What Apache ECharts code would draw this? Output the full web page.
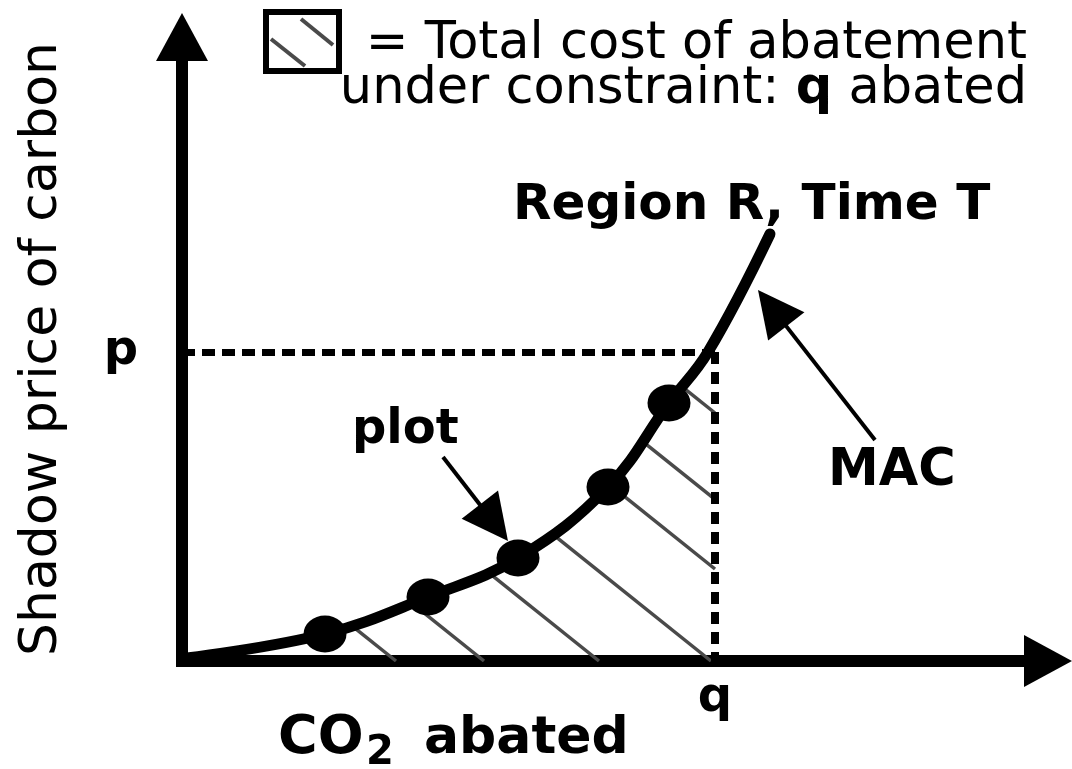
<!DOCTYPE html>
<html>
<head>
<meta charset="utf-8">
<title>Marginal abatement cost curve</title>
<script src="https://cdn.jsdelivr.net/npm/echarts@6/dist/echarts.min.js"></script>
<style>
  html, body { margin: 0; padding: 0; background: #fff; }
  #chart { width: 1072px; height: 769px; }
</style>
</head>
<body>
<div id="chart"></div>
<script>
// MAC curve (x = CO2 abated, y = shadow price)
const macX = [5, 143, 246, 336, 426, 487, 526, 588];
const macY = [3, 27, 64, 103, 174, 258, 309, 427];

// the plotted points sitting on the curve
const plotX = [143, 246, 336, 426, 487];
const plotY = [27, 64, 103, 174, 258];

// price / quantity of the constraint
const pValue = 309;
const qValue = 533;

// hatch lines, given by where each one would meet the x axis
const hatchX0 = [214, 302, 417, 529, 648, 735, 843];
const HATCH_SLOPE = 0.8;

// annotation arrows: tail -> tip
const arrowTail = [[693, 221], [261, 204]];
const arrowTip = [[576, 371], [326, 120]];

const X_MAX = 866;
const Y_MAX = 624;
const FONT = '"DejaVu Sans", Verdana, sans-serif';

const curveData = macX.map((x, i) => [x, macY[i]]);
const plotData = plotX.map((x, i) => [x, plotY[i]]);

// clip each hatch line between the curve and the axis / q line
const hatchSegments = () => {
  const segs = [];
  hatchX0.forEach(x0 => {
    for (let i = 0; i < macX.length - 1; i++) {
      const xa = macX[i], ya = macY[i], xb = macX[i + 1], yb = macY[i + 1];
      const fa = ya - HATCH_SLOPE * (x0 - xa);
      const fb = yb - HATCH_SLOPE * (x0 - xb);
      if (fa <= 0 && fb >= 0) {
        const t = -fa / (fb - fa);
        const xc = xa + t * (xb - xa);
        const yc = ya + t * (yb - ya);
        if (xc < qValue) {
          const end = x0 <= qValue ? [x0, 0] : [qValue, HATCH_SLOPE * (x0 - qValue)];
          segs.push({ coords: [[xc, yc], end] });
        }
        break;
      }
    }
  });
  return segs;
};

// triangle heads are centred on the line end, so pull the end back by half a head
const HEAD_LEN = 46;
const arrowData = arrowTail.map((tail, i) => {
  const tip = arrowTip[i];
  const dx = tip[0] - tail[0], dy = tip[1] - tail[1];
  const len = Math.sqrt(dx * dx + dy * dy);
  const back = HEAD_LEN / 2 / len;
  return { coords: [tail, [tip[0] - dx * back, tip[1] - dy * back]] };
});

const chart = echarts.init(document.getElementById('chart'));

const axisBase = {
  type: 'value',
  min: 0,
  splitLine: { show: false },
  axisTick: { show: false },
  axisLine: {
    lineStyle: { color: '#000', width: 12, cap: 'square' },
    symbol: ['none', 'triangle'],
    symbolSize: [52, 48]
  }
};

const boldLabel = {
  color: '#000',
  fontFamily: FONT,
  fontSize: 48,
  fontWeight: 'bold'
};

chart.setOption({
  animation: false,
  grid: { left: 182, right: 24, top: 37, bottom: 108 },
  xAxis: Object.assign({}, axisBase, {
    max: X_MAX,
    axisLabel: Object.assign({ customValues: [qValue], formatter: () => 'q', margin: 14 }, boldLabel)
  }),
  yAxis: Object.assign({}, axisBase, {
    max: Y_MAX,
    name: 'Shadow price of carbon',
    nameLocation: 'middle',
    nameRotate: 90,
    nameGap: 114,
    nameTextStyle: { color: '#000', fontFamily: FONT, fontSize: 52 },
    axisLabel: Object.assign({ customValues: [pValue], formatter: () => 'p', margin: 44 }, boldLabel)
  }),
  series: [
    {
      name: 'hatch',
      type: 'lines',
      coordinateSystem: 'cartesian2d',
      z: 1,
      symbol: 'none',
      lineStyle: { color: '#4a4a4a', width: 3.5, opacity: 1 },
      data: hatchSegments()
    },
    {
      name: 'constraint',
      type: 'lines',
      coordinateSystem: 'cartesian2d',
      z: 2,
      symbol: 'none',
      lineStyle: { color: '#000', width: 7, type: [13, 7], opacity: 1 },
      data: [
        { coords: [[0, pValue], [qValue, pValue]] },
        { coords: [[qValue, pValue], [qValue, 0]], lineStyle: { width: 8, type: [12, 8] } }
      ]
    },
    {
      name: 'MAC',
      type: 'line',
      z: 3,
      smooth: 0.4,
      showSymbol: false,
      lineStyle: { color: '#000', width: 11, cap: 'round' },
      data: curveData
    },
    {
      name: 'plot',
      type: 'scatter',
      z: 4,
      symbol: 'circle',
      symbolSize: [43, 37],
      itemStyle: { color: '#000', opacity: 1 },
      data: plotData
    },
    {
      name: 'arrows',
      type: 'lines',
      coordinateSystem: 'cartesian2d',
      z: 5,
      symbol: ['none', 'triangle'],
      symbolSize: [34, HEAD_LEN],
      lineStyle: { color: '#000', width: 4, opacity: 1 },
      data: arrowData
    }
  ],
  graphic: [
    // legend swatch
    {
      type: 'rect',
      shape: { x: 266, y: 12, width: 73, height: 59 },
      style: { fill: '#fff', stroke: '#000', lineWidth: 6 }
    },
    {
      type: 'line',
      shape: { x1: 301, y1: 19, x2: 333, y2: 45 },
      style: { stroke: '#4a4a4a', lineWidth: 4 }
    },
    {
      type: 'line',
      shape: { x1: 271, y1: 39, x2: 305, y2: 66 },
      style: { stroke: '#4a4a4a', lineWidth: 4 }
    },
    {
      type: 'text',
      x: 1027, y: 45,
      style: {
        text: '= Total cost of abatement',
        font: '51px ' + FONT, fill: '#000',
        align: 'right', verticalAlign: 'middle',
        textAlign: 'right', textVerticalAlign: 'middle'
      }
    },
    {
      type: 'text',
      x: 1027, y: 90,
      style: {
        text: 'under constraint: {b|q} abated',
        font: '51px ' + FONT, fill: '#000',
        align: 'right', verticalAlign: 'middle',
        textAlign: 'right', textVerticalAlign: 'middle',
        rich: { b: { fontFamily: FONT, fontSize: 51, fontWeight: 'bold', fill: '#000', color: '#000' } }
      }
    },
    {
      type: 'text',
      x: 513, y: 206,
      style: { text: 'Region R, Time T', font: 'bold 50px ' + FONT, fill: '#000', verticalAlign: 'middle', textVerticalAlign: 'middle' }
    },
    {
      type: 'text',
      x: 828, y: 472,
      style: { text: 'MAC', font: 'bold 51px ' + FONT, fill: '#000', verticalAlign: 'middle', textVerticalAlign: 'middle' }
    },
    {
      type: 'text',
      x: 352, y: 431,
      style: { text: 'plot', font: 'bold 48px ' + FONT, fill: '#000', verticalAlign: 'middle', textVerticalAlign: 'middle' }
    },
    {
      type: 'text',
      x: 278, y: 739,
      style: { text: 'CO', font: 'bold 54px ' + FONT, fill: '#000', verticalAlign: 'middle', textVerticalAlign: 'middle' }
    },
    {
      type: 'text',
      x: 366, y: 754,
      style: { text: '2', font: 'bold 40px ' + FONT, fill: '#000', verticalAlign: 'middle', textVerticalAlign: 'middle' }
    },
    {
      type: 'text',
      x: 424, y: 739,
      style: { text: 'abated', font: 'bold 52px ' + FONT, fill: '#000', verticalAlign: 'middle', textVerticalAlign: 'middle' }
    }
  ]
});
</script>
</body>
</html>
